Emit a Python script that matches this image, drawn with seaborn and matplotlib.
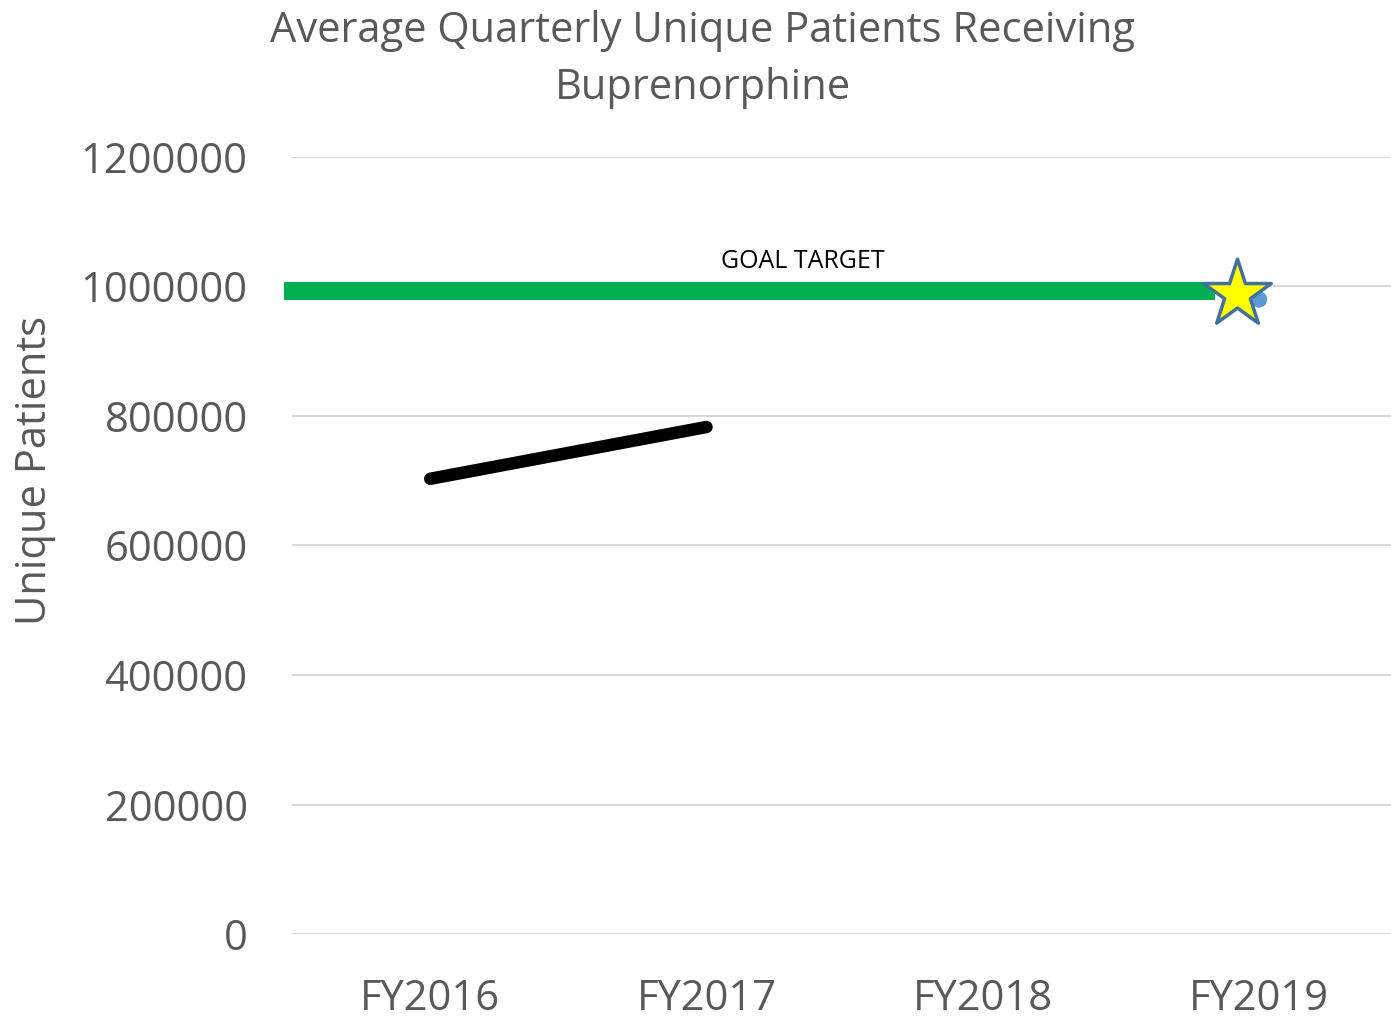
import matplotlib
matplotlib.use("Agg")
import matplotlib.pyplot as plt
import seaborn as sns
import pandas as pd

# datos
years = ["FY2016", "FY2017", "FY2018", "FY2019"]
patients = [703000, 783000, None, None]
projected = [None, None, None, 980000]
goal_value = 993000
star_value = 988000

sns.set_style("white")
plt.rcParams['font.family'] = ['Open Sans', 'DejaVu Sans']
grey = "#595959"

fig = plt.figure(figsize=(13.91, 10.18), dpi=100)
ax = fig.add_axes([0.21, 0.0825, 0.7944, 0.7633])

df = pd.DataFrame({"year": years, "patients": patients, "projected": projected})
x = list(range(len(years)))

# linea de meta
ax.plot([-0.53, 2.84], [goal_value, goal_value], color="#00B050", lw=13,
        solid_capstyle="butt", clip_on=False, zorder=3)
ax.text(1.35, goal_value + 27000, "GOAL TARGET", ha="center", va="bottom",
        fontsize=18, color="black")

sns.lineplot(x=x, y=df["patients"], ax=ax, color="black", lw=9,
             solid_capstyle="round", zorder=4)
sns.scatterplot(x=x, y=df["projected"], ax=ax, color="#5B9BD5", s=140,
                edgecolor="none", zorder=4)
ax.scatter([2.92], [star_value], marker="*", s=2600, color="#FFFF00",
           edgecolor="#41719C", linewidth=2.5, zorder=5, clip_on=False)

ax.set_xlim(-0.5, 3.5)
ax.set_ylim(0, 1200000)
ax.set_yticks(range(0, 1200001, 200000))
ax.set_yticklabels([str(v) for v in range(0, 1200001, 200000)])
ax.set_xticks(x)
ax.set_xticklabels(years)
ax.yaxis.grid(True, color="#D9D9D9", lw=1.5)
ax.xaxis.grid(False)
for s in ax.spines.values():
    s.set_visible(False)
ax.tick_params(axis="both", colors=grey, labelsize=30, length=0)
ax.tick_params(axis="y", pad=32)
ax.tick_params(axis="x", pad=32)
ax.set_xlabel("")
ax.set_ylabel("Unique Patients", color=grey, fontsize=30)
ax.yaxis.set_label_coords(-0.214, 0.597)

fig.suptitle("Average Quarterly Unique Patients Receiving\nBuprenorphine",
             color=grey, fontsize=30, x=0.505, y=0.99, va="top", linespacing=1.45)

fig.savefig("out.png", dpi=100)
